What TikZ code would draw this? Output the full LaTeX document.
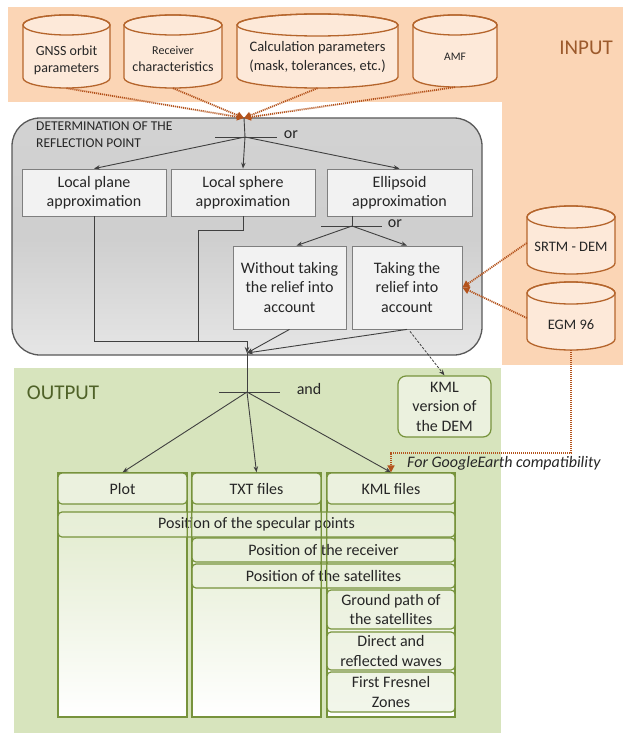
\documentclass[tikz,border=0pt]{standalone}
\usepackage{fontspec}
\setmainfont{Carlito}
\usetikzlibrary{arrows.meta,calc}
\definecolor{peach}{HTML}{FBD5B5}
\definecolor{cylfill}{HTML}{FDE9D9}
\definecolor{cylline}{HTML}{B5652C}
\definecolor{dotarrow}{HTML}{B4531C}
\definecolor{inputtxt}{HTML}{9C5A2C}
\definecolor{greenbg}{HTML}{D7E4BD}
\definecolor{greenline}{HTML}{77933C}
\definecolor{greenfill}{HTML}{EBF1DE}
\definecolor{colgreen}{HTML}{DCE7C4}
\definecolor{outtxt}{HTML}{4F6228}
\definecolor{graybox}{HTML}{F2F2F2}
\definecolor{grayline}{HTML}{7F7F7F}
\definecolor{txt}{HTML}{262626}
\definecolor{conn}{HTML}{404040}
\definecolor{detline}{HTML}{595959}
\newcommand{\cylshape}[5]{%
  \path[fill=cylfill,draw=cylline,line width=1.3pt] ({#1-#4},{#2+#5}) -- ({#1-#4},{#3-#5})
    arc[start angle=180,end angle=360,x radius=#4pt,y radius=#5pt] -- ({#1+#4},{#2+#5})
    arc[start angle=0,end angle=180,x radius=#4pt,y radius=#5pt] -- cycle;
  \draw[draw=cylline,line width=1.3pt] (#1,{#2+#5}) ellipse[x radius=#4pt,y radius=#5pt];
}
\begin{document}
\begin{tikzpicture}[x=1pt,y=-1pt,
  cyltext/.style={align=center,text=txt,inner sep=0pt},
  gbox/.style={draw=grayline,fill=graybox,line width=0.8pt,align=center,text=txt,inner sep=0pt,font=\fontsize{16}{19.5}\selectfont},
  obox/.style={draw=greenline,fill=greenfill,line width=1.2pt,rounded corners=4pt,align=center,text=txt,inner sep=0pt,font=\fontsize{16}{19.5}\selectfont},
  rowbox/.style={obox,fill opacity=0.6,text opacity=1},
  colbox/.style={draw=greenline,line width=1.2pt,top color=colgreen,bottom color=white,inner sep=0pt},
  conline/.style={draw=conn,line width=0.9pt},
  conarr/.style={conline,-{Stealth[length=6pt,width=4.5pt]}},
  dotarr/.style={draw=dotarrow,line width=1.8pt,dash pattern=on 1.1pt off 0.9pt,-{Triangle[length=7pt,width=7pt]}},
  lbl/.style={text=txt,inner sep=0pt,font=\fontsize{16}{19.5}\selectfont}]
\useasboundingbox (0,0) rectangle (623,733);
\fill[white] (0,0) rectangle (623,733);
% backgrounds
\fill[peach] (8,7) rectangle (623,102);
\fill[peach] (502,102) rectangle (623,365);
\fill[greenbg] (14,368) rectangle (501,733);
\node[font=\fontsize{21}{24}\selectfont,text=inputtxt,inner sep=0pt] (inlbl) at (586,48) {INPUT};
\node[font=\fontsize{21}{24}\selectfont,text=outtxt,inner sep=0pt] (outlbl) at (63,393) {OUTPUT};
% input cylinders
\cylshape{66.5}{15}{88}{43.5}{10}
\cylshape{173}{15}{88}{49}{10}
\cylshape{317.5}{14}{88}{80.5}{11}
\cylshape{455}{15}{87}{42}{10}
\cylshape{571}{206}{274}{44}{11}
\cylshape{571}{282}{350}{44}{11}
\node[cyltext,minimum width=87pt,minimum height=56pt,font=\fontsize{14}{17}\selectfont] (gnss) at (66.5,60) {GNSS orbit\\parameters};
\node[cyltext,minimum width=98pt,minimum height=58pt,font=\fontsize{14}{17}\selectfont] (recv) at (173,59) {{\fontsize{12}{16}\selectfont Receiver}\\characteristics};
\node[cyltext,minimum width=161pt,minimum height=62pt,font=\fontsize{14.5}{19}\selectfont] (calc) at (317.5,57) {Calculation parameters\\(mask, tolerances, etc.)};
\node[cyltext,minimum width=84pt,minimum height=60pt,font=\fontsize{11.5}{14}\selectfont] (amf) at (455,57) {AMF};
\node[cyltext,minimum width=88pt,minimum height=54pt,font=\fontsize{14.5}{17}\selectfont] (srtm) at (571,247) {SRTM - DEM};
\node[cyltext,minimum width=88pt,minimum height=50pt,font=\fontsize{14.5}{17}\selectfont] (egm) at (571,325) {EGM 96};
% determination container
\node[draw=detline,line width=1.3pt,rounded corners=28pt,top color=gray!35,bottom color=gray!20,middle color=gray!38,minimum width=470pt,minimum height=237pt,inner sep=0pt] (det) at (247,236.5) {};
\node[anchor=north west,align=left,inner sep=0pt,text=txt,font=\fontsize{13.5}{17}\selectfont] (dettitle) at (36,122) {DETERMINATION OF THE\\REFLECTION POINT};
% dotted input arrows
\coordinate (conv) at (244,118);
\draw[dotarr] (gnss.south) -- (conv);
\draw[dotarr] (recv.south) -- (conv);
\draw[dotarr] (calc.south) -- (conv);
\draw[dotarr] (amf.south) -- (conv);
% approximation boxes
\node[gbox,minimum width=144pt,minimum height=47pt] (lp) at (94,192.5) {Local plane\\approximation};
\node[gbox,minimum width=144pt,minimum height=47pt] (ls) at (243,192.5) {Local sphere\\approximation};
\node[gbox,minimum width=145pt,minimum height=47pt] (el) at (399.5,192.5) {Ellipsoid\\approximation};
\node[gbox,minimum width=113pt,minimum height=83pt] (wo) at (289.5,287.5) {Without taking\\the relief into\\account};
\node[gbox,minimum width=110pt,minimum height=83pt] (ta) at (407,287.5) {Taking the\\relief into\\account};
% first or
\coordinate (or1) at (245,137);
\coordinate (or1l) at (215,137);
\coordinate (or1r) at (277,137);
\draw[conline] (conv) -- (or1);
\draw[conline] (or1l) -- (or1r);
\node[lbl] (orlbl1) at (291,135) {or};
\draw[conarr] (or1) -- (lp.north);
\draw[conarr] (or1) -- (ls.north);
\draw[conarr] (or1) -- (el.north);
% second or
\coordinate (or2top) at (352,216);
\coordinate (or2) at (352,226);
\coordinate (or2l) at (321,226);
\coordinate (or2r) at (382,226);
\draw[conline] (or2top) -- (or2);
\draw[conline] (or2l) -- (or2r);
\node[lbl] (orlbl2) at (395,224) {or};
\draw[conarr] (or2) -- ($(wo.north)+(7,0)$);
\draw[conarr] (or2) -- (ta.north);
% merge
\coordinate (merge) at (247,353);
\coordinate (mjoin) at (247,341);
\coordinate (lsb) at (198,230);
\draw[conline] (lp.south) |- (mjoin);
\draw[conline] (ls.south) |- (lsb) |- (mjoin);
\draw[conarr] (mjoin) -- (merge);
\draw[conarr] (wo.south) -- (merge);
\draw[conarr] (ta.south) -- (merge);
% SRTM / EGM inputs
\draw[dotarr] ($(srtm.west)+(0,-4)$) -- (ta.east);
\draw[dotarr] ($(egm.west)+(0,-7)$) -- (ta.east);
% KML DEM
\node[obox,rounded corners=8pt,minimum width=93pt,minimum height=61pt] (kmldem) at (444.5,406.5) {KML\\version of\\the DEM};
\draw[draw=conn,line width=0.8pt,dash pattern=on 2.5pt off 1.5pt,-{Stealth[length=6pt,width=4.5pt]}] ($(ta.south)+(3,2)$) -- (kmldem.north);
% and junction
\coordinate (andpt) at (247,392);
\coordinate (andl) at (219,392);
\coordinate (andr) at (280,392);
\draw[conline] (merge) -- (andpt);
\draw[conline] (andl) -- (andr);
\node[lbl] (andlbl) at (309,389) {and};
% output columns
\node[colbox,minimum width=129pt,minimum height=244pt] (plotcol) at (122.5,595) {};
\node[colbox,minimum width=129pt,minimum height=244pt] (txtcol) at (256.5,595) {};
\node[colbox,minimum width=128pt,minimum height=244pt] (kmlcol) at (391,595) {};
\node[obox,minimum width=129pt,minimum height=31pt] (plot) at (122.5,488.5) {Plot};
\node[obox,minimum width=129pt,minimum height=31pt] (txtf) at (256.5,488.5) {TXT files};
\node[obox,minimum width=128pt,minimum height=31pt] (kml) at (391,488.5) {KML files};
\node[rowbox,minimum width=397pt,minimum height=25pt] (spec) at (256.5,524.5) {Position of the specular points};
\node[rowbox,minimum width=263pt,minimum height=24pt] (rec) at (323.5,550) {Position of the receiver};
\node[rowbox,minimum width=263pt,minimum height=24pt] (sat) at (323.5,576) {Position of the satellites};
\node[rowbox,minimum width=128pt,minimum height=39pt] (gp) at (391,609.5) {Ground path of\\the satellites};
\node[rowbox,minimum width=128pt,minimum height=38pt] (dr) at (391,651) {Direct and\\reflected waves};
\node[rowbox,minimum width=128pt,minimum height=40pt] (ff) at (391,692) {First Fresnel\\Zones};
\draw[greenline,line width=1.2pt] (plotcol.north west) rectangle (plotcol.south east);
\draw[greenline,line width=1.2pt] (txtcol.north west) rectangle (txtcol.south east);
\draw[greenline,line width=1.2pt] (kmlcol.north west) rectangle (kmlcol.south east);
% and arrows
\draw[conarr] (andpt) -- (plot.north);
\draw[conarr] (andpt) -- (txtf.north);
\draw[conarr] (andpt) -- (kml.north);
% EGM to KML files
\coordinate (gel) at (391,453);
\draw[dotarr,line width=1.5pt] (egm.south) |- (gel) -- (kml.north);
\node[anchor=west,inner sep=0pt,text=txt,font=\fontsize{16}{19.5}\selectfont\itshape] (gelbl) at (407,463) {For GoogleEarth compatibility};
\end{tikzpicture}
\end{document}
